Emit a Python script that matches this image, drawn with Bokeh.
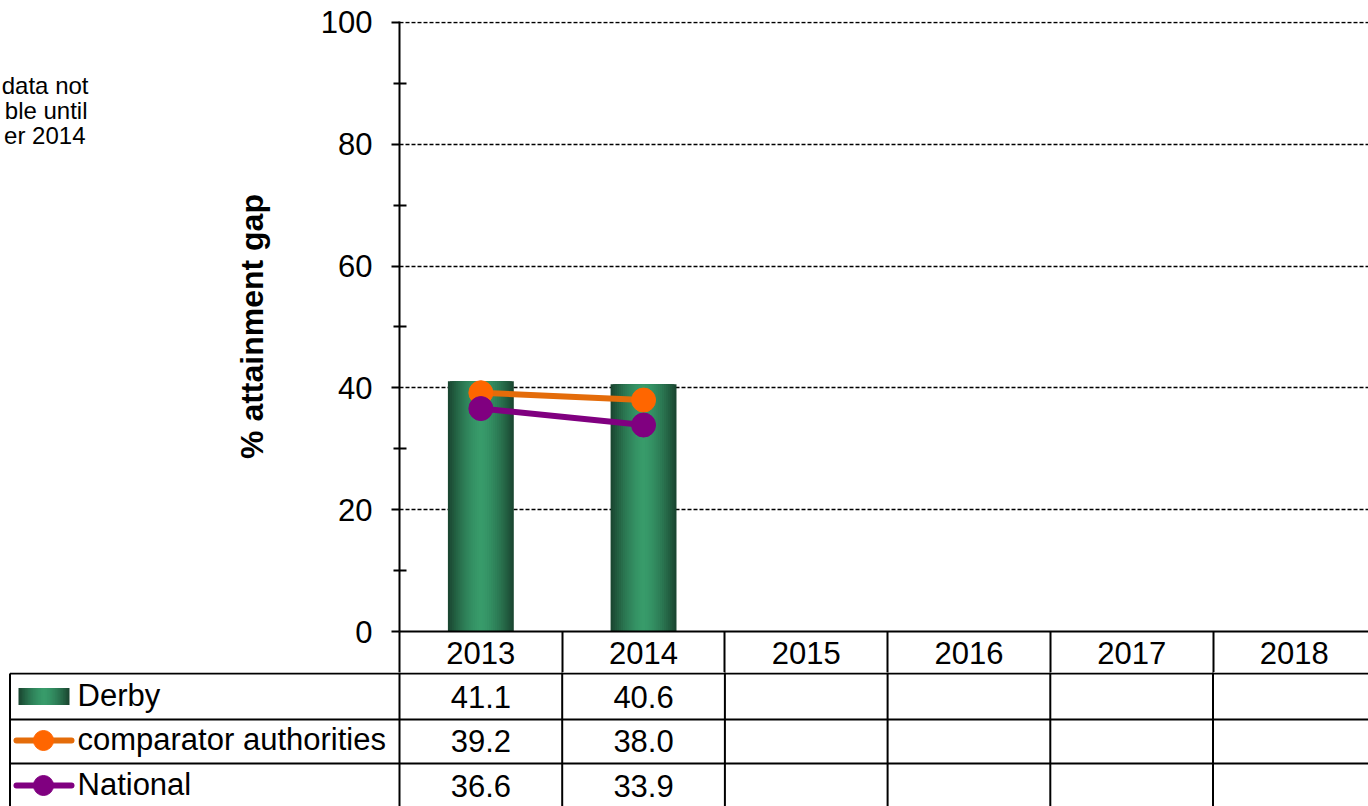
import numpy as np
from bokeh.plotting import figure
from bokeh.layouts import column, row
from bokeh.models import Range1d, FixedTicker, ColumnDataSource
from bokeh.core.properties import value
from bokeh.embed import file_html
from bokeh.resources import INLINE

# ---------------- data ----------------
years = ["2013", "2014", "2015", "2016", "2017", "2018"]
derby = [41.1, 40.6, None, None, None, None]
comparator = [39.2, 38.0, None, None, None, None]
national = [36.6, 33.9, None, None, None, None]
series_names = ["Derby", "comparator authorities", "National"]
y_ticks = [0, 20, 40, 60, 80, 100]
y_minor = [10, 30, 50, 70, 90]
axis_title = "% attainment gap"
note_lines = ["data not", "ble until", "er 2014"]

# ---------------- layout constants ----------------
FONT = "Liberation Sans"
PAGE_W, PAGE_H = 1368, 806
PX = 162.7          # pixels per category
NOTE_W = 100
ORIGIN = 399        # page x of category 0 (plot left edge)
FRAME_TOP = 21
FRAME_BOT = 631
TOP_H = 672
BOT_H = PAGE_H - TOP_H
Y_END = 100.15

ORANGE_L, ORANGE_M = "#E46C0A", "#FF6600"
PURPLE = "#800080"
EDGE = np.array([0x1a, 0x47, 0x31], dtype=float)
MID = np.array([0x38, 0x9c, 0x6b], dtype=float)


def hexcol(c):
    return "#%02x%02x%02x" % tuple(int(round(v)) for v in c)


def px2x(page_x):
    return (page_x - ORIGIN) / PX


def nan(v):
    return [np.nan if a is None else a for a in v]


xs = [i + 0.5 for i in range(len(years))]
N = 16


def strip_color(k):
    d = 1 - k / N
    return d, hexcol(MID + (EDGE - MID) * d ** 1.6)


# ---------------- note (text box, partly off the page) ----------------
note = figure(width=NOTE_W, height=TOP_H, output_backend="svg", toolbar_location=None,
              x_range=Range1d(0, NOTE_W), y_range=Range1d(TOP_H, 0),
              x_axis_location=None, y_axis_location=None, frame_align=False,
              min_border_left=0, min_border_right=0, min_border_top=0, min_border_bottom=0)
note.outline_line_color = None
note.grid.visible = False
note.text(x=[88, 87, 85], y=[85, 110, 135], text=note_lines, text_font=value(FONT),
          text_font_size="24px", text_align="right", text_baseline="alphabetic",
          text_color="black")

# ---------------- top chart ----------------
top = figure(width=PAGE_W - NOTE_W, height=TOP_H, output_backend="svg", toolbar_location=None,
             x_range=Range1d(0, (PAGE_W - ORIGIN) / PX), y_range=Range1d(0, Y_END),
             frame_align=False,
             min_border_left=ORIGIN - NOTE_W, min_border_right=0,
             min_border_top=FRAME_TOP, min_border_bottom=TOP_H - FRAME_BOT)
top.outline_line_color = None
top.xgrid.visible = False
top.background_fill_color = "white"
top.border_fill_color = "white"

ax = top.yaxis[0]
ax.ticker = FixedTicker(ticks=y_ticks, minor_ticks=y_minor)
ax.axis_line_width = 2
ax.axis_line_color = "black"
ax.major_tick_line_width = 2
ax.major_tick_line_color = "black"
ax.major_tick_out = 8
ax.major_tick_in = 0
ax.minor_tick_line_width = 2
ax.minor_tick_line_color = "black"
ax.minor_tick_out = 6
ax.minor_tick_in = 7
ax.major_label_text_font = FONT
ax.major_label_text_font_size = "31px"
ax.major_label_text_color = "black"
ax.major_label_standoff = 19
ax.axis_label = axis_title
ax.axis_label_text_font = FONT
ax.axis_label_text_font_size = "32px"
ax.axis_label_text_font_style = "bold"
ax.axis_label_text_color = "black"
ax.axis_label_standoff = 48

# x axis = header row of the data table (minor ticks are the cell borders)
HDR = TOP_H - FRAME_BOT
xa = top.xaxis[0]
xa.ticker = FixedTicker(ticks=xs, minor_ticks=list(range(len(years) + 1)))
xa.major_label_overrides = {x: y for x, y in zip(xs, years)}
xa.axis_line_width = 2
xa.axis_line_color = "black"
xa.major_tick_out = 0
xa.major_tick_in = 0
xa.minor_tick_out = HDR
xa.minor_tick_in = 0
xa.minor_tick_line_width = 2
xa.minor_tick_line_color = "black"
xa.major_label_text_font = FONT
xa.major_label_text_font_size = "31px"
xa.major_label_text_color = "black"
xa.major_label_standoff = -31

top.ygrid.ticker = FixedTicker(ticks=[t for t in y_ticks if t > 0])
top.ygrid.grid_line_color = "black"
top.ygrid.grid_line_dash = "4 2"
top.ygrid.grid_line_width = 1.5
top.ygrid.grid_line_alpha = 1

# Derby bars with a horizontal gradient (concentric strips)
bar_src = ColumnDataSource(dict(x=[x for x, v in zip(xs, derby) if v is not None],
                                top=[v for v in derby if v is not None]))
BW = 0.405
for k in range(N):
    d, col = strip_color(k)
    top.vbar(x="x", top="top", width=BW * d, source=bar_src,
             fill_color=col, line_color=None)

top.line(xs, nan(comparator), line_color=ORANGE_L, line_width=6)
top.scatter(xs, nan(comparator), size=24, fill_color=ORANGE_M, line_color=ORANGE_M)
top.line(xs, nan(national), line_color=PURPLE, line_width=6)
top.scatter(xs, nan(national), size=24, fill_color=PURPLE, line_color=PURPLE)

# ---------------- data table body ----------------
bot = figure(width=PAGE_W, height=BOT_H, output_backend="svg", toolbar_location=None,
             x_range=Range1d(px2x(0), px2x(PAGE_W)), y_range=Range1d(BOT_H - 1, -1),
             x_axis_location=None, y_axis_location=None, frame_align=False,
             min_border_left=0, min_border_right=0, min_border_top=0, min_border_bottom=0)
bot.outline_line_color = None
bot.grid.visible = False
bot.background_fill_color = "white"
bot.border_fill_color = "white"

XEND = px2x(PAGE_W) + 1
LEG_L = px2x(9.5)
ROW_LINES = [0, 46, 90]
YB = BOT_H + 20
x0s = [LEG_L] * 3 + [LEG_L] + list(range(0, 6))
y0s = ROW_LINES + [0] + [-2] * 6
x1s = [XEND] * 3 + [LEG_L] + list(range(0, 6))
y1s = ROW_LINES + [YB] * 7
bot.segment(x0=x0s, y0=y0s, x1=x1s, y1=y1s, line_color="black", line_width=2)

ROW_Y = [23, 67, 112]

for vals, ry in zip([derby, comparator, national], ROW_Y):
    tx = [x for x, v in zip(xs, vals) if v is not None]
    tt = ["%.1f" % v for v in vals if v is not None]
    bot.text(x=tx, y=[ry] * len(tx), text=tt, text_font=value(FONT),
             text_font_size="31px", text_align="center", text_baseline="middle",
             text_color="black")

bot.text(x=[px2x(77)] * 3, y=[r - 1 for r in ROW_Y], text=series_names, text_font=value(FONT),
         text_font_size="31px", text_align="left", text_baseline="middle",
         text_color="black")

# legend keys
SW_X, SW_W, SW_H = px2x(43.5), 51 / PX, 17
for k in range(N):
    d, col = strip_color(k)
    bot.rect(x=[SW_X], y=[ROW_Y[0]], width=SW_W * d, height=SW_H,
             fill_color=col, line_color=None)

for ry, lc, mc in [(ROW_Y[1], ORANGE_L, ORANGE_M), (ROW_Y[2], PURPLE, PURPLE)]:
    bot.segment(x0=[px2x(16)], y0=[ry], x1=[px2x(71)], y1=[ry], line_color=lc,
                line_width=6, line_cap="round")
    bot.scatter(x=[px2x(43)], y=[ry], size=20, fill_color=mc, line_color=mc)

layout = column(row(note, top, spacing=0), bot, spacing=0)
open("out.html", "w").write(file_html(layout, INLINE))
